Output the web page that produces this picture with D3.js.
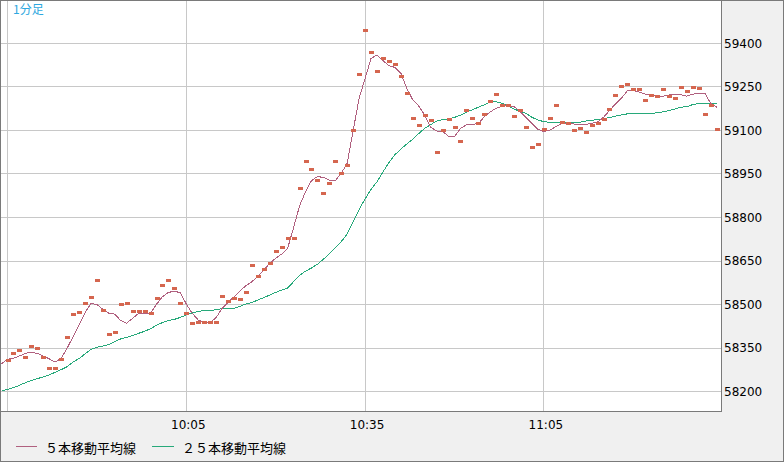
<!DOCTYPE html>
<html><head><meta charset="utf-8">
<script src="https://cdn.jsdelivr.net/npm/d3@7"></script>
<style>body{margin:0;background:#f0f0f0}svg{display:block}</style>
</head><body><svg id="c" width="784" height="462"></svg>
<script>
// ---- data ----
const startTime = "2024-01-01T09:34:00";   // first slot (line continuation only)
const endTime = "2024-01-01T11:35:00";
const price = [null,
 58309,58332,58343,58318,58356,58350,58318,58281,58281,58312,
 58387,58467,58473,58504,58525,58584,58480,58398,58405,58501,
 58504,58477,58477,58477,58470,58522,58566,58584,58556,58504,
 58470,58436,58439,58439,58439,58439,58529,58511,58522,58518,
 58542,58635,58597,58622,58642,58684,58697,58728,58728,58901,
 58994,58966,58928,58883,58918,58994,58952,58980,59100,59293,
 59445,59369,59304,59348,59338,59328,59286,59228,59142,59118,
 59152,59135,59025,59100,59138,59111,59062,59169,59142,59124,
 59155,59200,59224,59186,59186,59149,59169,59111,59042,59052,
 59104,59142,59186,59128,59124,59100,59107,59093,59118,59124,
 59138,59173,59221,59252,59259,59242,59242,59204,59221,59217,
 59242,59217,59211,59248,59235,59248,59245,59155,59186,59104];
const ma5 = [58296,
 58312,58315,58323,58332,58336,58332,58323,58313,58302,58315,
 58350,58389,58430,58472,58504,58500,58484,58470,58467,58445,
 58436,58453,58470,58470,58470,58501,58527,58542,58546,58541,
 58502,58470,58447,58439,58439,58455,58487,58508,58527,58547,
 58565,58579,58596,58619,58642,58660,58674,58694,58765,58840,
 58889,58927,58941,58938,58929,58927,58952,58987,59100,59211,
 59279,59348,59360,59340,59323,59317,59297,59245,59205,59184,
 59153,59111,59098,59096,59080,59078,59107,59119,59121,59123,
 59147,59164,59176,59184,59186,59182,59164,59145,59124,59104,
 59096,59101,59113,59124,59126,59122,59121,59121,59124,59129,
 59145,59168,59191,59211,59236,59237,59232,59225,59221,59218,
 59218,59222,59224,59223,59218,59225,59228,59228,59193,59180];
const ma25 = [58202,
 58208,58214,58222,58231,58238,58245,58251,58258,58267,58276,
 58286,58302,58314,58330,58346,58353,58357,58362,58372,58382,
 58387,58394,58401,58408,58417,58429,58438,58445,58449,58456,
 58464,58471,58476,58480,58480,58482,58486,58487,58487,58494,
 58502,58507,58516,58524,58533,58542,58550,58557,58579,58601,
 58615,58626,58639,58656,58675,58695,58717,58743,58786,58828,
 58864,58897,58923,58957,58989,59016,59036,59053,59070,59089,
 59107,59120,59132,59137,59140,59145,59152,59163,59171,59180,
 59188,59198,59199,59193,59184,59173,59166,59159,59145,59136,
 59130,59128,59127,59127,59127,59127,59128,59132,59135,59137,
 59141,59144,59149,59153,59157,59157,59157,59157,59158,59161,
 59164,59168,59174,59180,59182,59189,59193,59193,59193,59193];
const yTicks = [58200,58350,58500,58650,58800,58950,59100,59250,59400];
const gridTimes = ["09:35","10:05","10:35","11:05"];
const labelTimes = ["10:05","10:35","11:05"];
const title = "1分足";
const legendLabels = ["５本移動平均線","２５本移動平均線"];

// ---- chart ----
const svg = d3.select("#c");
const W = 784, H = 462;
const plot = {l:1, t:1, r:721, b:411};
const parseHM = s => new Date("2024-01-01T" + s + ":00");
const times = d3.timeMinute.range(new Date(startTime), new Date(endTime));

const x = d3.scaleTime().domain([parseHM("09:35"), parseHM("11:35")]).range([7.5, 7.5 + 120*5.96]);
const y = d3.scaleLinear().domain([58200, 59400]).range([391.7, 43.3]);

const C = {bg:"#f0f0f0", border:"#7a7a7a", grid:"#c8c8c8", marker:"#d5664f", ma5:"#b0607f", ma25:"#27a97a", title:"#2ea8e0"};

svg.append("rect").attr("x",0).attr("y",0).attr("width",W).attr("height",H).attr("fill",C.bg);
svg.append("rect").attr("x",plot.l).attr("y",plot.t).attr("width",plot.r-plot.l).attr("height",plot.b-plot.t).attr("fill","#fff");

svg.append("defs").append("clipPath").attr("id","clip")
  .append("rect").attr("x",plot.l).attr("y",plot.t).attr("width",plot.r-plot.l).attr("height",plot.b-plot.t);

// grid
const g = svg.append("g").attr("shape-rendering","crispEdges");
g.selectAll(".hg").data(yTicks).enter().append("line")
  .attr("x1",plot.l).attr("x2",plot.r)
  .attr("y1",d=>Math.floor(y(d))+0.5).attr("y2",d=>Math.floor(y(d))+0.5)
  .attr("stroke",C.grid);
g.selectAll(".vg").data(gridTimes).enter().append("line")
  .attr("y1",plot.t).attr("y2",plot.b)
  .attr("x1",d=>Math.floor(x(parseHM(d)))+0.5).attr("x2",d=>Math.floor(x(parseHM(d)))+0.5)
  .attr("stroke",C.grid);

// data layer
const dl = svg.append("g").attr("clip-path","url(#clip)");
const mk = arr => d3.line().defined(d=>d!=null).x((d,i)=>x(times[i])).y(d=>y(d));
dl.append("path").datum(ma25).attr("d",mk(ma25)).attr("fill","none").attr("stroke",C.ma25).attr("stroke-width",1).attr("shape-rendering","crispEdges");
dl.append("path").datum(ma5).attr("d",mk(ma5)).attr("fill","none").attr("stroke",C.ma5).attr("stroke-width",1).attr("shape-rendering","crispEdges");
dl.selectAll(".m").data(price.map((v,i)=>({v,t:times[i]})).filter(d=>d.v!=null)).enter().append("rect")
  .attr("x",d=>Math.round(x(d.t))-2).attr("y",d=>Math.round(y(d.v))-1)
  .attr("width",5).attr("height",3).attr("fill",C.marker).attr("shape-rendering","crispEdges");

// borders
const b = svg.append("g").attr("shape-rendering","crispEdges").attr("stroke",C.border).attr("fill","none");
b.append("line").attr("x1",plot.r+0.5).attr("x2",plot.r+0.5).attr("y1",0).attr("y2",plot.b+1);
b.append("line").attr("x1",0).attr("x2",plot.r+1).attr("y1",plot.b+0.5).attr("y2",plot.b+0.5);
b.append("rect").attr("x",0.5).attr("y",0.5).attr("width",W-1).attr("height",H-1);

// y labels
svg.selectAll(".yl").data(yTicks).enter().append("text")
  .attr("x",724).attr("y",d=>y(d)).attr("dy","0.36em")
  .attr("font-family","DejaVu Sans, sans-serif").attr("font-size",12).attr("fill","#000")
  .text(d=>d);
// x labels
svg.selectAll(".xl").data(labelTimes).enter().append("text")
  .attr("x",d=>x(parseHM(d))+2).attr("y",425).attr("dy","0.36em").attr("text-anchor","middle")
  .attr("font-family","DejaVu Sans, sans-serif").attr("font-size",12).attr("fill","#000")
  .text(d=>d);

// title
svg.append("text").attr("x",13).attr("y",10).attr("dy","0.36em")
  .attr("font-family","Noto Sans CJK JP, sans-serif").attr("font-size",12).attr("fill",C.title).text(title);

// legend
const lg = [{c:C.ma5,x0:16,x1:37,tx:45},{c:C.ma25,x0:152,x1:174,tx:182}];
lg.forEach((d,i)=>{
  svg.append("line").attr("x1",d.x0).attr("x2",d.x1).attr("y1",446.5).attr("y2",446.5).attr("stroke",d.c).attr("shape-rendering","crispEdges");
  svg.append("text").attr("x",d.tx).attr("y",448).attr("dy","0.36em")
    .attr("font-family","Noto Sans CJK JP, sans-serif").attr("font-size",13).attr("fill","#000").text(legendLabels[i]);
});
</script></body></html>
